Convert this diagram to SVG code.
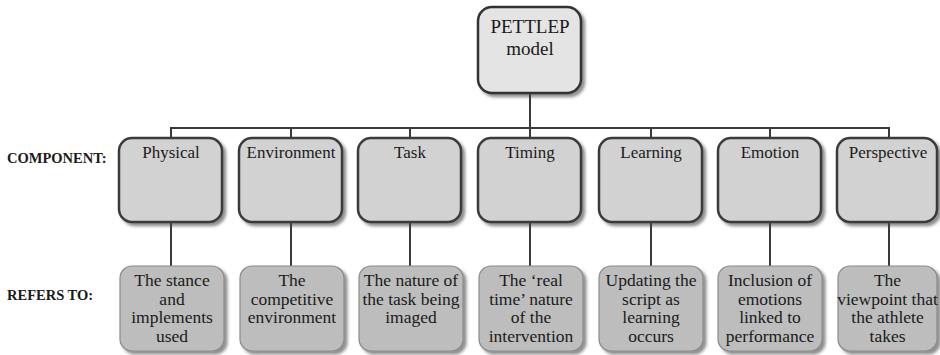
<svg xmlns="http://www.w3.org/2000/svg" width="940" height="355" viewBox="0 0 940 355">
<defs>
<filter id="sh" x="-10%" y="-10%" width="125%" height="125%">
<feDropShadow dx="3" dy="3" stdDeviation="1.5" flood-color="#444" flood-opacity="0.6"/>
</filter>
</defs>
<style>
text{font-family:'Liberation Serif','Times New Roman',Tinos,'DejaVu Serif',serif}
.t{fill:#1a1a1a;text-anchor:middle}
.top{fill:#e4e4e4;stroke:#333;stroke-width:2.5;filter:url(#sh)}
.comp{fill:#d2d2d2;stroke:#3a3a3a;stroke-width:2.5;filter:url(#sh)}
.ref{fill:#bdbdbd;stroke:#8a8a8a;stroke-width:1.2;filter:url(#sh)}
.lbl{font-weight:bold;font-size:14.5px;fill:#1a1a1a}
.c{font-size:17px}
.r{font-size:17.5px}
.ln{stroke:#3a3a3a;stroke-width:2;fill:none}
</style>
<rect width="940" height="355" fill="#fff"/>
<g id="connectors">
<line class="ln" x1="530" y1="93" x2="530" y2="128"/>
<line class="ln" x1="170" y1="128" x2="890" y2="128"/>
<line class="ln" x1="171" y1="128" x2="171" y2="138"/>
<line class="ln" x1="291" y1="128" x2="291" y2="138"/>
<line class="ln" x1="410" y1="128" x2="410" y2="138"/>
<line class="ln" x1="530" y1="128" x2="530" y2="138"/>
<line class="ln" x1="651" y1="128" x2="651" y2="138"/>
<line class="ln" x1="770" y1="128" x2="770" y2="138"/>
<line class="ln" x1="889" y1="128" x2="889" y2="138"/>
<line class="ln" x1="171" y1="222" x2="171" y2="266"/>
<line class="ln" x1="291" y1="222" x2="291" y2="266"/>
<line class="ln" x1="410" y1="222" x2="410" y2="266"/>
<line class="ln" x1="530" y1="222" x2="530" y2="266"/>
<line class="ln" x1="651" y1="222" x2="651" y2="266"/>
<line class="ln" x1="770" y1="222" x2="770" y2="266"/>
<line class="ln" x1="889" y1="222" x2="889" y2="266"/>
</g>
<g id="root">
<rect class="top" x="478" y="7" width="103" height="86" rx="14"/>
<text class="t" x="530" y="33" font-size="19">PETTLEP</text>
<text class="t" x="530" y="55" font-size="19">model</text>
</g>
<g id="labels">
<text class="lbl" x="7" y="163">COMPONENT:</text>
<text class="lbl" x="7" y="300">REFERS TO:</text>
</g>
<g id="physical">
<rect class="comp" x="119" y="138" width="103" height="84" rx="13"/>
<text class="t c" x="171" y="158">Physical</text>
</g>
<g id="environment">
<rect class="comp" x="239" y="138" width="103" height="84" rx="13"/>
<text class="t c" x="291" y="158">Environment</text>
</g>
<g id="task">
<rect class="comp" x="358" y="138" width="103" height="84" rx="13"/>
<text class="t c" x="410" y="158">Task</text>
</g>
<g id="timing">
<rect class="comp" x="478" y="138" width="103" height="84" rx="13"/>
<text class="t c" x="530" y="158">Timing</text>
</g>
<g id="learning">
<rect class="comp" x="599" y="138" width="103" height="84" rx="13"/>
<text class="t c" x="651" y="158">Learning</text>
</g>
<g id="emotion">
<rect class="comp" x="718" y="138" width="103" height="84" rx="13"/>
<text class="t c" x="770" y="158">Emotion</text>
</g>
<g id="perspective">
<rect class="comp" x="837" y="138" width="100" height="84" rx="13"/>
<text class="t c" x="888" y="158">Perspective</text>
</g>
<g id="ref-physical">
<rect class="ref" x="120" y="266" width="104" height="85" rx="12"/>
<text class="t r" x="172" y="286">The stance</text>
<text class="t r" x="172" y="304.5">and</text>
<text class="t r" x="172" y="323">implements</text>
<text class="t r" x="172" y="341.5">used</text>
</g>
<g id="ref-environment">
<rect class="ref" x="240" y="266" width="104" height="85" rx="12"/>
<text class="t r" x="292" y="286">The</text>
<text class="t r" x="292" y="304.5">competitive</text>
<text class="t r" x="292" y="323">environment</text>
</g>
<g id="ref-task">
<rect class="ref" x="359" y="266" width="104" height="85" rx="12"/>
<text class="t r" x="411" y="286">The nature of</text>
<text class="t r" x="411" y="304.5">the task being</text>
<text class="t r" x="411" y="323">imaged</text>
</g>
<g id="ref-timing">
<rect class="ref" x="479" y="266" width="104" height="85" rx="12"/>
<text class="t r" x="531" y="286">The ‘real</text>
<text class="t r" x="531" y="304.5">time’ nature</text>
<text class="t r" x="531" y="323">of the</text>
<text class="t r" x="531" y="341.5">intervention</text>
</g>
<g id="ref-learning">
<rect class="ref" x="599" y="266" width="104" height="85" rx="12"/>
<text class="t r" x="651" y="286">Updating the</text>
<text class="t r" x="651" y="304.5">script as</text>
<text class="t r" x="651" y="323">learning</text>
<text class="t r" x="651" y="341.5">occurs</text>
</g>
<g id="ref-emotion">
<rect class="ref" x="718" y="266" width="104" height="85" rx="12"/>
<text class="t r" x="770" y="286">Inclusion of</text>
<text class="t r" x="770" y="304.5">emotions</text>
<text class="t r" x="770" y="323">linked to</text>
<text class="t r" x="770" y="341.5">performance</text>
</g>
<g id="ref-perspective">
<rect class="ref" x="838" y="266" width="99" height="85" rx="12"/>
<text class="t r" x="887.5" y="286">The</text>
<text class="t r" x="887.5" y="304.5">viewpoint that</text>
<text class="t r" x="887.5" y="323">the athlete</text>
<text class="t r" x="887.5" y="341.5">takes</text>
</g>
</svg>
